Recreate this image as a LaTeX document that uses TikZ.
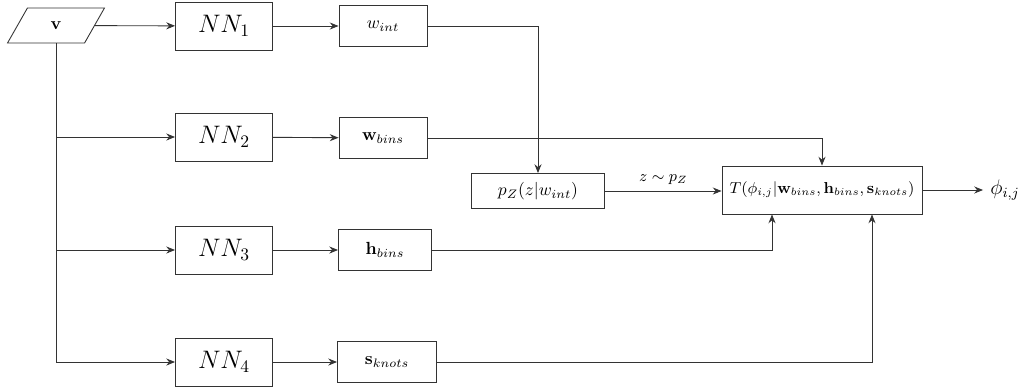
\documentclass[tikz,border=0pt]{standalone}
\usepackage{amsmath,amsfonts,amssymb}
\usetikzlibrary{arrows.meta,positioning,shapes.geometric}

\begin{document}
\begin{tikzpicture}[
  x=0.02cm, y=-0.02cm,
  >={Stealth[length=5pt,width=4pt]},
  conn/.style={draw=black!80, line width=0.5pt},
  box/.style={rectangle, draw=black!80, line width=0.5pt, inner sep=1pt},
  nnbox/.style={box, minimum width=1.94cm, minimum height=0.96cm, font=\Large},
  outbox/.style={box, minimum height=0.82cm},
  inbox/.style={trapezium, trapezium left angle=68, trapezium right angle=112,
    trapezium stretches=true, draw=black!80, line width=0.5pt,
    minimum width=1.94cm, minimum height=0.7cm}
]
\useasboundingbox (0,0) rectangle (1028,390);

% input and networks
\node[inbox] (v) at (56,25.5) {$\mathbf{v}$};
\node[nnbox] (nn1) at (224,26) {$NN_1$};
\node[nnbox] (nn2) at (224,137) {$NN_2$};
\node[nnbox] (nn3) at (224,250) {$NN_3$};
\node[nnbox] (nn4) at (224,362) {$NN_4$};

% outputs of the networks
\node[outbox, minimum width=1.76cm] (wint) at (383,26) {$w_{int}$};
\node[outbox, minimum width=1.76cm] (wbins) at (383,138) {$\mathbf{w}_{bins}$};
\node[outbox, minimum width=1.86cm] (hbins) at (385,250) {$\mathbf{h}_{bins}$};
\node[outbox, minimum width=1.98cm] (sknots) at (387,362) {$\mathbf{s}_{knots}$};

% base distribution and transform
\node[box, minimum width=2.66cm, minimum height=0.7cm] (pz) at (538,191) {$p_Z(z|w_{int})$};
\node[box, minimum width=4cm, minimum height=0.96cm, font=\small] (T) at (822,190)
  {$T(\phi_{i,j}|\mathbf{w}_{bins},\mathbf{h}_{bins},\mathbf{s}_{knots})$};
\node[font=\large, inner sep=4pt] (phi) at (1005,190) {$\phi_{i,j}$};

% connectors
\draw[conn, ->] (v) -- (nn1);
\draw[conn] (v.south) -- (v.south |- nn4.west);
\draw[conn, ->] (v.south |- nn2.west) -- (nn2.west);
\draw[conn, ->] (v.south |- nn3.west) -- (nn3.west);
\draw[conn, ->] (v.south |- nn4.west) -- (nn4.west);

\draw[conn, ->] (nn1) -- (wint);
\draw[conn, ->] (nn2) -- (wbins);
\draw[conn, ->] (nn3) -- (hbins);
\draw[conn, ->] (nn4) -- (sknots);

\draw[conn, ->] (wint) -| (pz);
\draw[conn, ->] (wbins) -| (T);
\draw[conn, ->] (hbins) -| ([xshift=-1cm]T.south);
\draw[conn, ->] (sknots) -| ([xshift=1cm]T.south);
\draw[conn, ->] (pz.east) -- node[above, font=\small] {$z\sim p_Z$} (pz.east -| T.west);
\draw[conn, ->] (T) -- (phi);
\end{tikzpicture}
\end{document}
